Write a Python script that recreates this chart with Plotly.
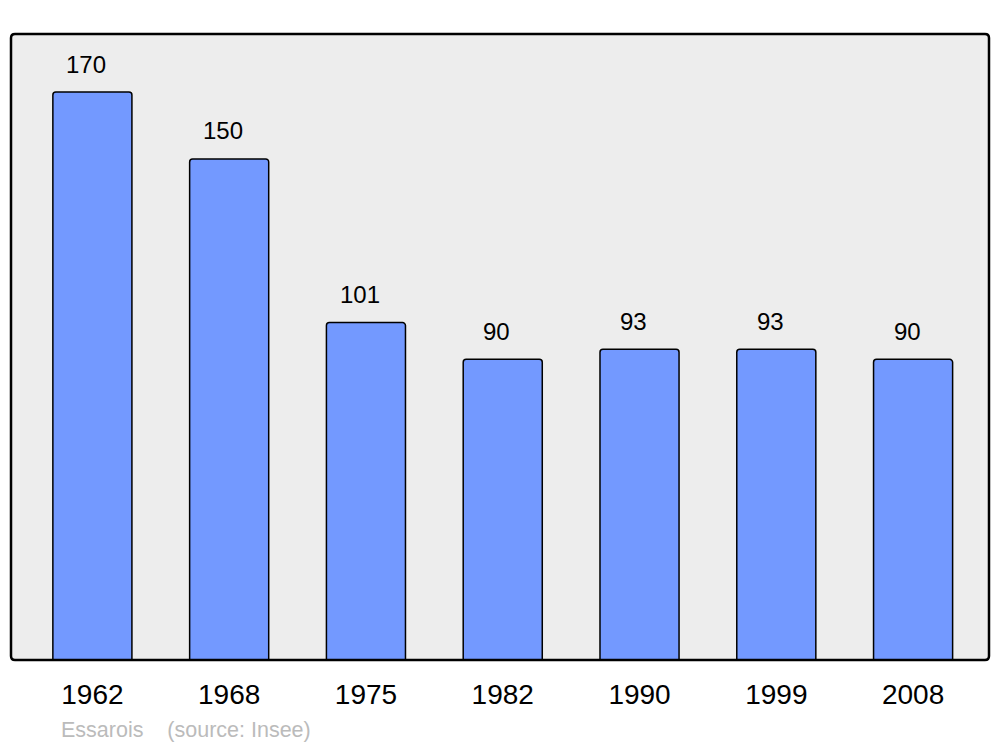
import plotly.graph_objects as go

years = ["1962", "1968", "1975", "1982", "1990", "1999", "2008"]
population = [170, 150, 101, 90, 93, 93, 90]
commune = "Essarois"
source = "(source: Insee)"

W, H = 1000, 747
ml, mr, mt, mb = 11, 11, 34, 87
pw, ph = W - ml - mr, H - mt - mb
FONT = "Liberation Sans, Arial, sans-serif"

fig = go.Figure()
fig.add_trace(go.Bar(
    x=list(range(len(years))), y=population, width=0.578,
    marker=dict(color="#7399ff", line=dict(color="black", width=1.5), cornerradius=3),
    customdata=years, hovertemplate="%{customdata}: %{y}<extra></extra>",
))

for i, v in enumerate(population):
    fig.add_annotation(x=i, y=v, text=str(v), showarrow=False, yshift=28, xshift=-6,
                       font=dict(family=FONT, size=24, color="black"))

fig.add_annotation(xref="paper", yref="paper", x=(59 - ml) / pw, y=-(730 - (H - mb)) / ph,
                   xanchor="left", yanchor="middle", showarrow=False,
                   text=commune + "&nbsp;&nbsp;&nbsp;&nbsp;" + source,
                   font=dict(family=FONT, size=21.5, color="#bbbbbb"))

# rounded frame
r = 4
rx, ry = r / pw, r / ph
path = (f"M {rx},0 L {1-rx},0 Q 1,0 1,{ry} L 1,{1-ry} Q 1,1 {1-rx},1 "
        f"L {rx},1 Q 0,1 0,{1-ry} L 0,{ry} Q 0,0 {rx},0 Z")
fig.add_shape(type="path", xref="paper", yref="paper", path=path,
              line=dict(color="black", width=2.5), layer="above")

fig.update_layout(
    width=W, height=H,
    margin=dict(l=ml, r=mr, t=mt, b=mb),
    paper_bgcolor="white", plot_bgcolor="#ededed",
    showlegend=False,
    xaxis=dict(range=[-0.595, 6.555], showgrid=False, zeroline=False,
               tickmode="array", tickvals=list(range(len(years))), ticktext=years,
               ticks="outside", ticklen=9, tickcolor="rgba(0,0,0,0)",
               tickfont=dict(family=FONT, size=28, color="black"),
               showline=False),
    yaxis=dict(range=[0, 187.4], showgrid=False, zeroline=False, showticklabels=False,
               showline=False),
)

fig.write_html("out.html", config={"displayModeBar": False},
               post_script="document.body.style.margin='0';")
